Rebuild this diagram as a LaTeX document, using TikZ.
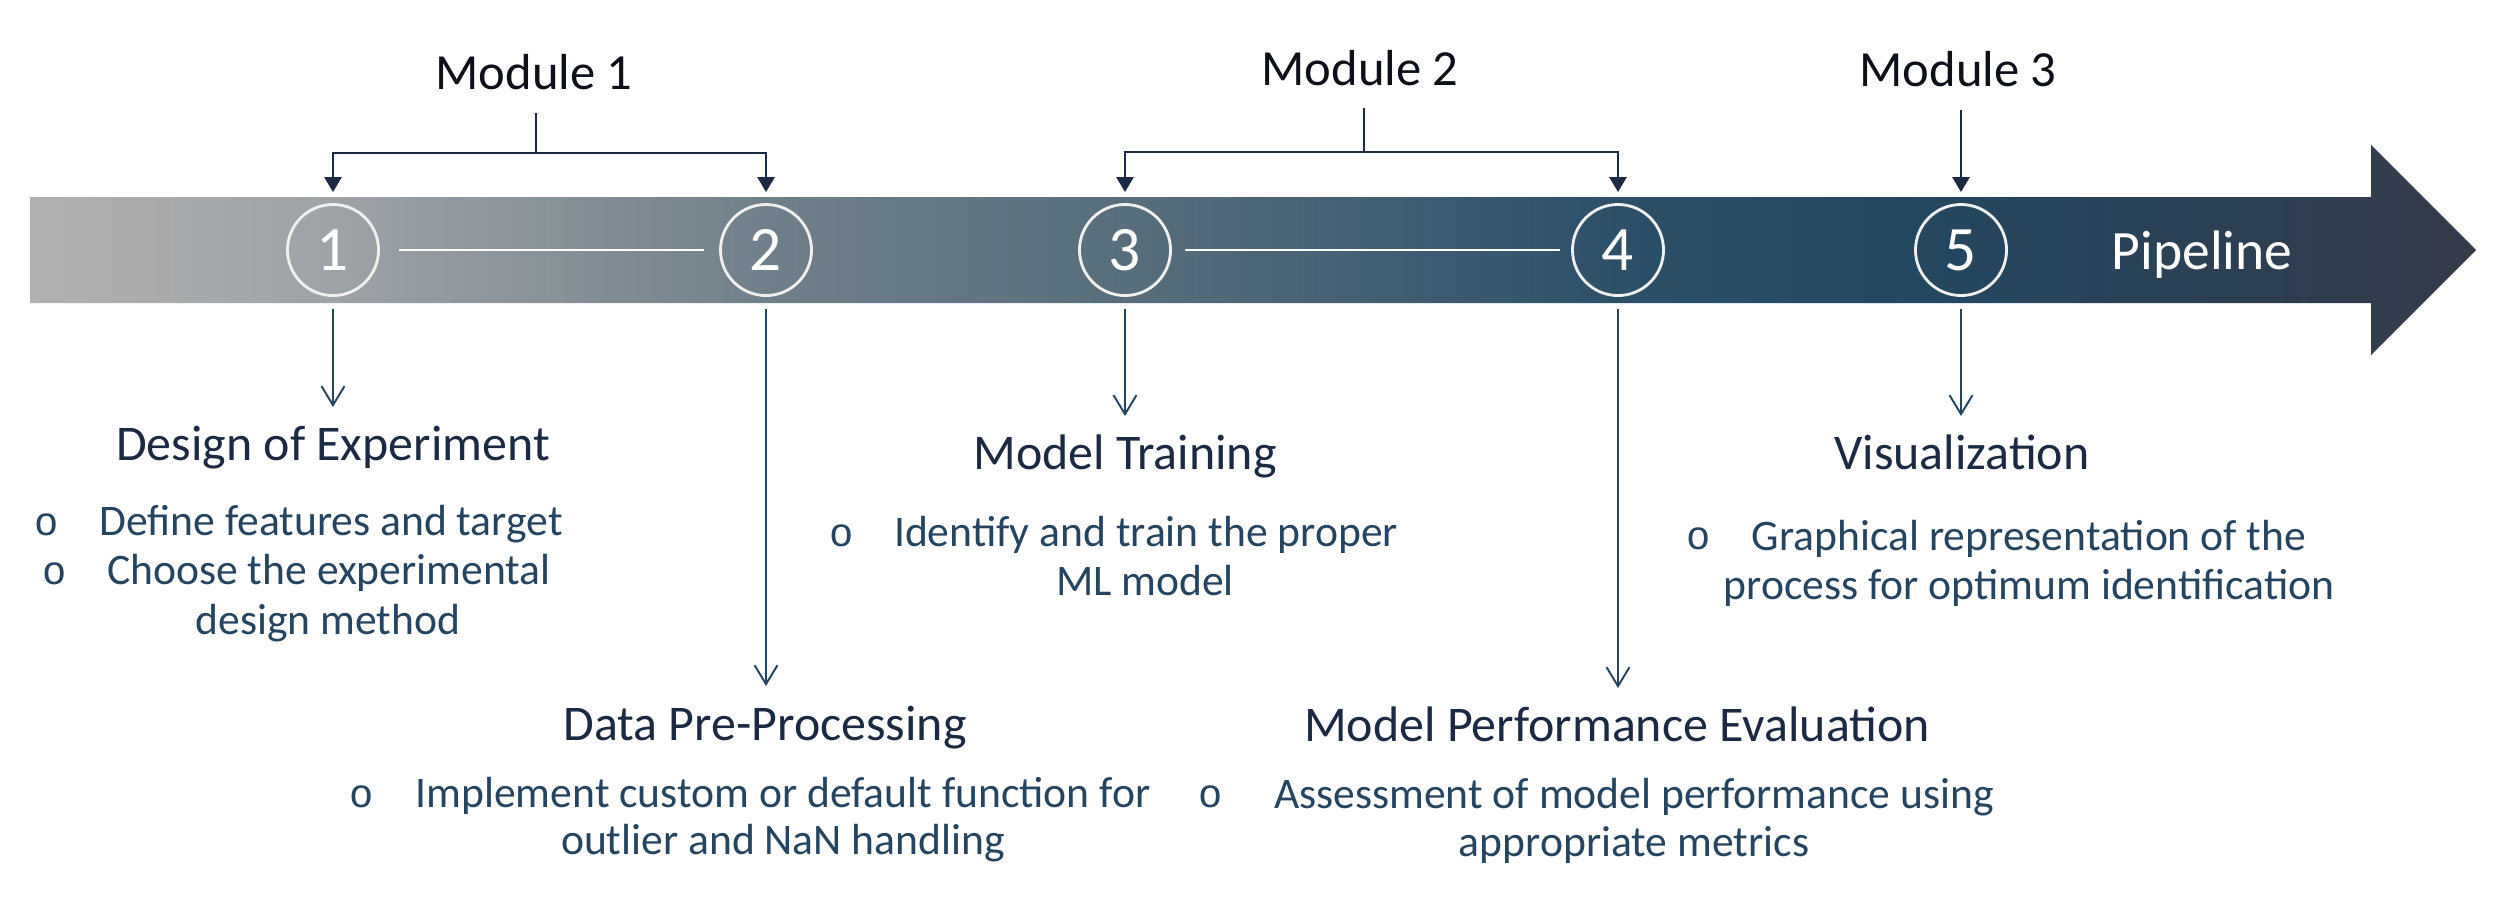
\documentclass[tikz,border=0pt]{standalone}
\usepackage{fontspec}
\setmainfont{Carlito}
\newfontfamily\bulletfont{Liberation Mono}
\usetikzlibrary{arrows.meta}
\definecolor{navy}{RGB}{27,42,66}
\definecolor{steel}{RGB}{36,68,96}
\definecolor{modcol}{RGB}{14,16,24}
\definecolor{ringcol}{RGB}{240,240,240}
\pgfdeclarehorizontalshading{bandshade}{100bp}{%
 rgb(0bp)=(0.69,0.69,0.69);
 rgb(25bp)=(0.69,0.69,0.69);
 rgb(31.19bp)=(0.62,0.639,0.655);
 rgb(40.07bp)=(0.439,0.502,0.541);
 rgb(47.38bp)=(0.345,0.431,0.486);
 rgb(57.48bp)=(0.176,0.314,0.412);
 rgb(64.45bp)=(0.141,0.275,0.373);
 rgb(75bp)=(0.204,0.227,0.282);
 rgb(100bp)=(0.204,0.227,0.282)}
\tikzset{
 modtxt/.style={anchor=base,inner sep=0pt,text=modcol,font=\fontsize{14.4}{17}\selectfont},
 titletxt/.style={anchor=base,inner sep=0pt,text=navy,font=\fontsize{14.2}{17}\selectfont},
 bodytxt/.style={anchor=base,inner sep=0pt,text=steel,font=\fontsize{12.4}{15}\selectfont},
 bullettxt/.style={anchor=base,inner sep=0pt,text=steel,font=\bulletfont\fontsize{11.5}{14}\selectfont},
 stepcircle/.style={circle,draw=ringcol,line width=0.8pt,minimum size=0.91cm,inner sep=0pt,text=white,font=\fontsize{18}{20}\selectfont},
 linkline/.style={draw=white,line width=0.8pt},
 topline/.style={draw=navy,line width=0.8pt},
 toparrow/.style={topline,-{Triangle[length=1.5mm,width=1.7mm]}},
 downarrow/.style={draw=steel,line width=0.55pt,-{Straight Barb[length=1.9mm,width=2.3mm]}}
}
\begin{document}
\begin{tikzpicture}[x=0.01cm,y=-0.01cm]
\useasboundingbox (0,0) rectangle (2500,920);
% pipeline band
\shade[shading=bandshade] (30,197) -- (2371,197) -- (2371,145) -- (2476,250) -- (2371,355) -- (2371,303) -- (30,303) -- cycle;
% steps
\node[stepcircle] (c1) at (333,250) {1};
\node[stepcircle] (c2) at (766,250) {2};
\node[stepcircle] (c3) at (1125,250) {3};
\node[stepcircle] (c4) at (1618,250) {4};
\node[stepcircle] (c5) at (1961,250) {5};
\draw[linkline,shorten <=0.19cm,shorten >=0.15cm] (c1.east) -- (c2.west);
\draw[linkline,shorten <=0.13cm,shorten >=0.11cm] (c3.east) -- (c4.west);
\node[anchor=base,inner sep=0pt,text=white,font=\fontsize{15.8}{18}\selectfont] (pl) at (2202,269) {Pipeline};
% modules
\node[modtxt] (m1) at (534,89) {Module 1};
\node[modtxt] (m2) at (1360,85) {Module 2};
\node[modtxt] (m3) at (1958,86) {Module 3};
\coordinate (s1) at (536,113);
\coordinate (j1) at (536,153);
\coordinate (s2) at (1364,108);
\coordinate (j2) at (1364,152);
\coordinate (s3) at (1961,110);
\draw[topline] (s1) -- (j1);
\draw[toparrow,shorten >=0.11cm] (j1) -| (c1.north);
\draw[toparrow,shorten >=0.11cm] (j1) -| (c2.north);
\draw[topline] (s2) -- (j2);
\draw[toparrow,shorten >=0.11cm] (j2) -| (c3.north);
\draw[toparrow,shorten >=0.11cm] (j2) -| (c4.north);
\draw[toparrow,shorten >=0.11cm] (s3) -- (c5.north);
% down arrows
\coordinate (a1) at (333,407);
\coordinate (a2) at (766,686);
\coordinate (a3) at (1125,416);
\coordinate (a4) at (1618,688);
\coordinate (a5) at (1961,416);
\draw[downarrow,shorten <=0.12cm] (c1.south) -- (a1);
\draw[downarrow,shorten <=0.12cm] (c2.south) -- (a2);
\draw[downarrow,shorten <=0.12cm] (c3.south) -- (a3);
\draw[downarrow,shorten <=0.12cm] (c4.south) -- (a4);
\draw[downarrow,shorten <=0.12cm] (c5.south) -- (a5);
% block 1
\node[titletxt] (t1) at (333,460) {Design of Experiment};
\node[bullettxt] (b1a) at (47,535) {o};
\node[bodytxt] (l1a) at (331,535) {Define features and target};
\node[bullettxt] (b1b) at (55,584) {o};
\node[bodytxt] (l1b) at (329,584) {Choose the experimental};
\node[bodytxt] (l1c) at (328,634) {design method};
% block 2
\node[titletxt] (t2) at (765,740) {Data Pre-Processing};
\node[bullettxt] (b2) at (362,807) {o};
\node[bodytxt] (l2a) at (783,807) {Implement custom or default function for};
\node[bodytxt] (l2b) at (783,854) {outlier and NaN handling};
% block 3
\node[titletxt] (t3) at (1125,469) {Model Training};
\node[bullettxt] (b3) at (842,546) {o};
\node[bodytxt] (l3a) at (1146,546) {Identify and train the proper};
\node[bodytxt] (l3b) at (1145,595) {ML model};
% block 4
\node[titletxt] (t4) at (1617,741) {Model Performance Evaluation};
\node[bullettxt] (b4) at (1211,807) {o};
\node[bodytxt] (l4a) at (1634,808) {Assessment of model performance using};
\node[bodytxt] (l4b) at (1634,856) {appropriate metrics};
% block 5
\node[titletxt] (t5) at (1962,469) {Visualization};
\node[bullettxt] (b5) at (1699,549) {o};
\node[bodytxt] (l5a) at (2029,550) {Graphical representation of the};
\node[bodytxt] (l5b) at (2029,599) {process for optimum identification};
\end{tikzpicture}
\end{document}
